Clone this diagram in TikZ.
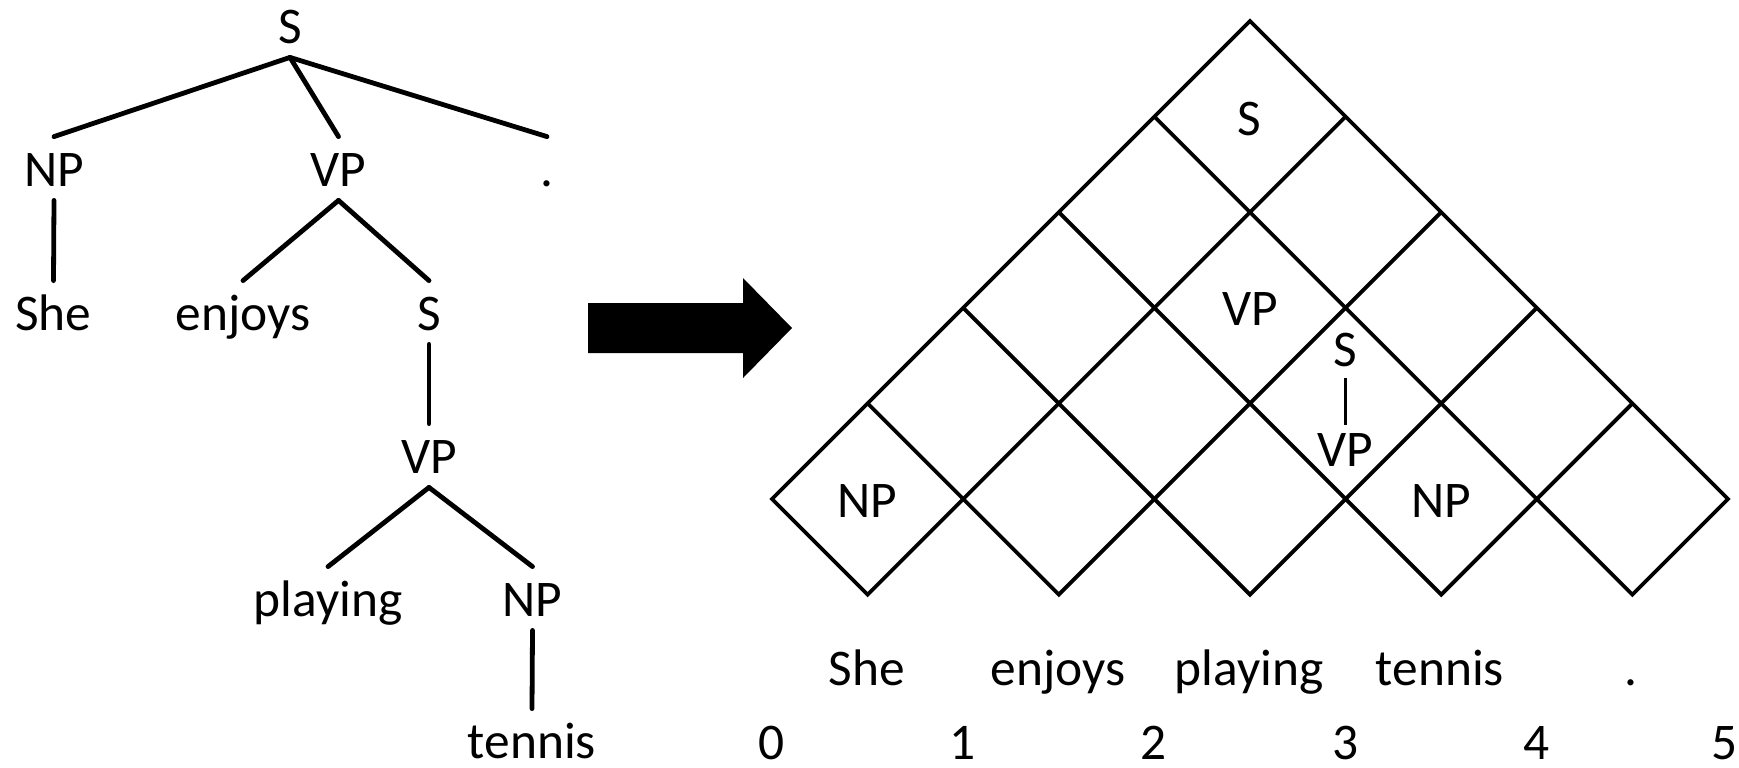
\documentclass[tikz,border=0pt]{standalone}
\usepackage{fontspec}
\setmainfont{Carlito}
\newcommand\lblfont{\fontsize{25.7pt}{30pt}\selectfont}
\begin{document}
\begin{tikzpicture}[
  x=0.5pt, y=-0.5pt,
  lbl/.style={font=\lblfont, inner xsep=0pt, inner ysep=7pt,
              text height=17.5pt, text depth=0pt, anchor=base},
  branch/.style={line width=2.4pt, line cap=round},
  gridline/.style={line width=1.9pt, line join=miter},
  unary/.style={line width=1.5pt},
]
% canvas
\fill[white] (0,0) rectangle (1739,767);
\useasboundingbox (0,0) rectangle (1739,767);

% ---------------- parse tree ----------------
\node[lbl] (tS)    at (290,43)   {S};
\node[lbl] (tNP)   at (54,186)   {NP};
\node[lbl] (tVP)   at (338.5,186) {VP};
\node[lbl] (tDot)  at (547,186)  {.};
\node[lbl] (tShe)  at (53.5,330) {She};
\node[lbl] (tEnj)  at (243,330)  {enjoys};
\node[lbl] (tS2)   at (429,330)  {S};
\node[lbl] (tVP2)  at (429,473)  {VP};
\node[lbl] (tPlay) at (328,616)  {playing};
\node[lbl] (tNP2)  at (532.5,616) {NP};
\node[lbl] (tTen)  at (532,758)  {tennis};

\draw[branch] (tS.south) -- (tNP.north);
\draw[branch] (tS.south) -- (tVP.north);
\draw[branch] (tS.south) -- (tDot.north);
\draw[branch] (tNP.south) -- (tShe.north);
\draw[branch] (tVP.south) -- (tEnj.north);
\draw[branch] (tVP.south) -- (tS2.north);
\draw[branch] (tS2.south) -- (tVP2.north);
\draw[branch] (tVP2.south) -- (tPlay.north);
\draw[branch] (tVP2.south) -- (tNP2.north);
\draw[branch] (tNP2.south) -- (tTen.north);

% ---------------- block arrow ----------------
\fill[black] (588,303) -- (743,303) -- (743,278) -- (792,328)
  -- (743,378) -- (743,353) -- (588,353) -- cycle;

% ---------------- chart of diamond cells ----------------
\begin{scope}[shift={(386pt,-249.5pt)}, x={(47.8pt,0pt)}, y={(0pt,47.8pt)}]
  \draw[gridline] (6,4) -- (1,-1) -- (0,0) -- (5,5) -- (10,0) -- (9,-1) -- (4,4);
  \foreach \k in {1,2,3}
    \draw[gridline] (\k,\k) -- ({2*\k+1},-1) -- ({6+\k},{4-\k});
\end{scope}

% cell labels
\node[lbl] (cS)    at (1249,135) {S};
\node[lbl] (cVP)   at (1250,325) {VP};
\node[lbl] (cSa)   at (1345,366) {S};
\node[lbl] (cVPa)  at (1345,466) {VP};
\node[lbl] (cNPa)  at (867,517)  {NP};
\node[lbl] (cNPb)  at (1441,517) {NP};
\draw[unary, shorten >=-4pt, shorten <=-1pt] (cSa.south) -- (cVPa.north);

% words under the chart
\node[lbl] (wShe)  at (867,685)  {She};
\node[lbl] (wEnj)  at (1058,685) {enjoys};
\node[lbl] (wPlay) at (1249,685) {playing};
\node[lbl] (wTen)  at (1440,685) {tennis};
\node[lbl] (wDot)  at (1631,685) {.};

% positions between words
\foreach \i/\px in {0/772,1/963,2/1154,3/1346,4/1537,5/1725}
  \node[lbl] (p\i) at (\px,759) {\i};
\end{tikzpicture}
\end{document}
